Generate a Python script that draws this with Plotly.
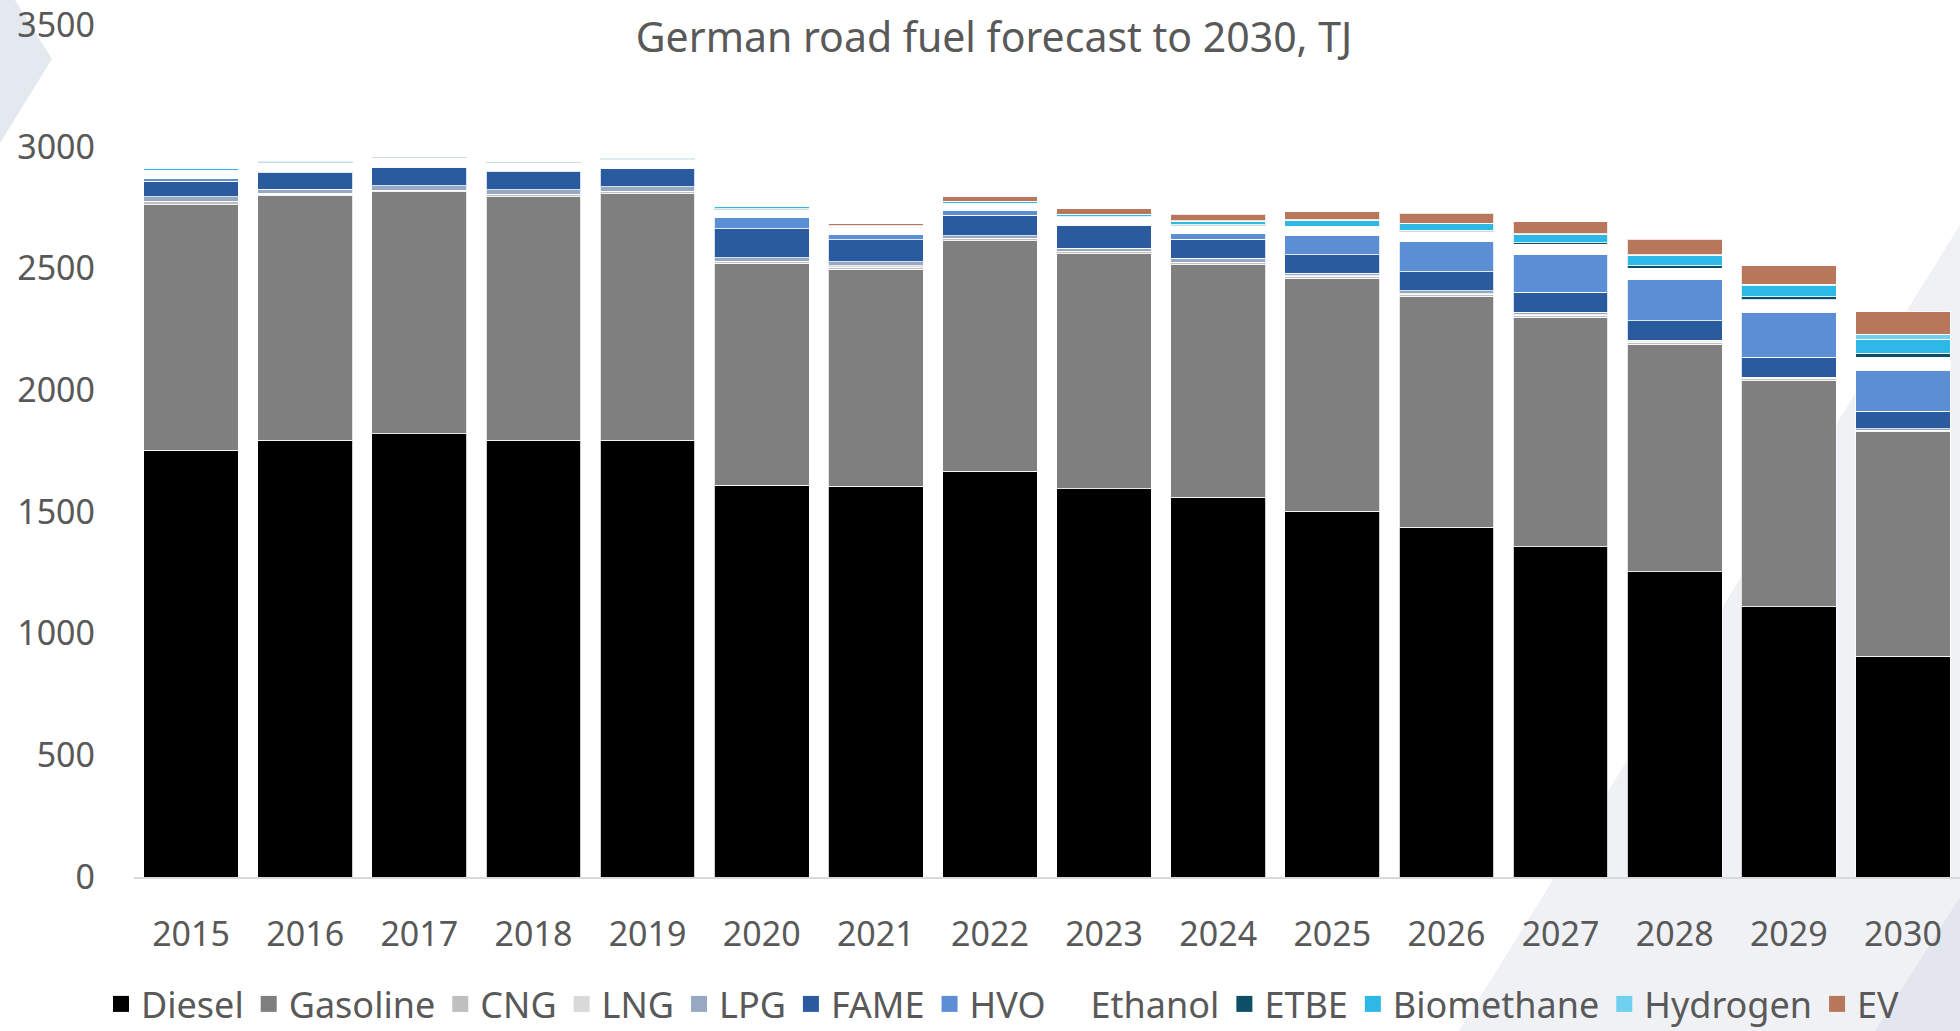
import plotly.graph_objects as go

years = ["2015", "2016", "2017", "2018", "2019", "2020", "2021", "2022",
         "2023", "2024", "2025", "2026", "2027", "2028", "2029", "2030"]

diesel = [1754, 1795, 1821, 1795, 1795, 1610, 1605, 1667, 1595, 1559, 1502, 1436, 1356, 1253, 1110, 907]
gasoline = [1008, 1004, 994, 1000, 1012, 911, 891, 947, 966, 956, 957, 950, 943, 935, 931, 923]
cng = [11, 5, 4, 7, 8, 7, 7, 7, 7, 8, 9, 8, 8, 8, 5, 4]
lng = [2, 4, 2, 2, 2, 2, 7, 2, 2, 2, 2, 3, 3, 2, 2, 2]
lpg = [19, 18, 19, 19, 18, 14, 18, 12, 12, 16, 11, 12, 10, 8, 6, 6]
fame = [64, 67, 75, 75, 74, 120, 90, 83, 95, 78, 75, 77, 83, 79, 81, 72]
hvo = [10, 7, 3, 4, 1, 47, 22, 19, 4, 23, 81, 126, 153, 171, 186, 167]
ethanol = [31, 34, 36, 33, 34, 31, 27, 29, 30, 34, 35, 39, 43, 45, 51, 55]
etbe = [5, 4, 5, 4, 2, 4, 2, 2, 2, 4, 2, 5, 7, 10, 12, 15]
biomethane = [5, 4, 0, 1, 4, 7, 5, 7, 8, 14, 23, 27, 35, 44, 45, 58]
hydrogen = [0, 0, 0, 0, 1, 1, 1, 2, 2, 2, 2, 2, 2, 2, 7, 21]
ev = [0, 0, 0, 0, 3, 0, 9, 18, 23, 26, 33, 41, 49, 63, 76, 93]

series = [
    ("Diesel", diesel, "#000000"),
    ("Gasoline", gasoline, "#7f7f7f"),
    ("CNG", cng, "#bfbfbf"),
    ("LNG", lng, "#d9d9d9"),
    ("LPG", lpg, "#97a9c2"),
    ("FAME", fame, "#2a5b9f"),
    ("HVO", hvo, "#5b8ed4"),
    ("Ethanol", ethanol, "#ffffff"),
    ("ETBE", etbe, "#0c4f66"),
    ("Biomethane", biomethane, "#2db8e6"),
    ("Hydrogen", hydrogen, "#6fd0f0"),
    ("EV", ev, "#b8775a"),
]

W, H = 1960, 1031
L, T, R, B = 134, 25, 0, 154
pw, ph = W - L - R, H - T - B

def px(x):
    return (x - L) / pw

def py(y):
    return (H - B - y) / ph

fig = go.Figure()
for name, vals, col in series:
    fig.add_trace(go.Bar(
        x=years, y=vals, name=name, legendgroup=name, showlegend=False,
        marker=dict(color=col, line=dict(color="rgba(255,255,255,0.8)", width=1)),
    ))
for name, vals, col in series:
    fig.add_trace(go.Scatter(
        x=[years[0]], y=[None], name=name, legendgroup=name, mode="markers",
        marker=dict(symbol="square", size=20, color=col, line=dict(width=0)),
        showlegend=True, hoverinfo="skip",
    ))

shapes = [
    dict(type="path", xref="paper", yref="paper", layer="below",
         path=f"M {px(-5)},{py(-5)} L {px(15)},{py(-5)} L {px(15)},{py(0)} L {px(52)},{py(59)} L {px(0)},{py(143)} L {px(-5)},{py(143)} Z",
         fillcolor="#e4e8ef", line=dict(width=0)),
    dict(type="path", xref="paper", yref="paper", layer="below",
         path=f"M {px(1459)},{py(1031)} L {px(1960)},{py(225)} L {px(1970)},{py(225)} L {px(1970)},{py(1040)} L {px(1459)},{py(1040)} Z",
         fillcolor="#f0f1f5", line=dict(width=0)),
    dict(type="path", xref="paper", yref="paper", layer="below",
         path=f"M {px(1875)},{py(1031)} L {px(1960)},{py(897)} L {px(1970)},{py(897)} L {px(1970)},{py(1040)} L {px(1875)},{py(1040)} Z",
         fillcolor="#e3e6ee", line=dict(width=0)),
]

font_fam = "Noto Sans, Open Sans, sans-serif"
fig.update_layout(
    width=W, height=H,
    barmode="stack", bargap=0.17,
    margin=dict(l=L, r=R, t=T, b=B, autoexpand=False),
    paper_bgcolor="white", plot_bgcolor="rgba(0,0,0,0)",
    font=dict(family=font_fam, size=34, color="#595959"),
    title=dict(text="German road fuel forecast to 2030, TJ",
               x=994 / W, xref="container", xanchor="center",
               y=1 - 38 / H, yref="container", yanchor="middle",
               font=dict(size=41, color="#595959")),
    xaxis=dict(type="category", range=[-0.5, len(years) - 0.5], autorange=False,
               showgrid=False, showline=True, linecolor="#d9d9d9", linewidth=2,
               ticks="", ticklabelstandoff=26, tickfont=dict(size=34, color="#595959")),
    yaxis=dict(range=[0, 3500], autorange=False, dtick=500, showgrid=False, showline=False,
               zeroline=False, ticks="", ticklabelstandoff=38, ticklabeloverflow="allow",
               tickfont=dict(size=34, color="#595959")),
    legend=dict(orientation="h", xref="container", yref="container",
                x=1003 / W, xanchor="center",
                y=(H - 1004) / H, yanchor="middle",
                font=dict(size=36, color="#595959"), bgcolor="rgba(0,0,0,0)",
                traceorder="normal", itemclick=False),
    shapes=shapes,
    showlegend=True,
)

fig.write_html("out.html", config={"displayModeBar": False},
               post_script="document.body.style.margin='0';document.body.style.overflow='hidden';")
